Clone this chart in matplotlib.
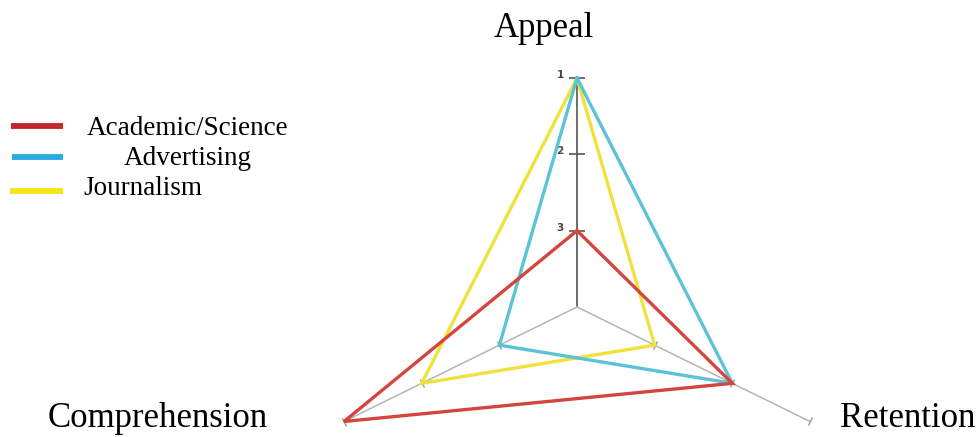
import numpy as np
import matplotlib
matplotlib.use("Agg")
import matplotlib.pyplot as plt
from matplotlib.lines import Line2D
from matplotlib.markers import MarkerStyle
from matplotlib.transforms import Affine2D

# ---- data ----
axes_labels = ["Appeal", "Retention", "Comprehension"]
axes_angles_deg = [90, -30, 210]
series_names = ["Academic/Science", "Advertising", "Journalism"]
academic_ranks = [3, 2, 1]
advertising_ranks = [1, 2, 3]
journalism_ranks = [1, 3, 2]
rank_ticks = [1, 2, 3]
max_rank = 3

line_colors = {"Academic/Science": "#d5453f", "Advertising": "#5cc3d6", "Journalism": "#efe23c"}
legend_colors = {"Academic/Science": "#c1272d", "Advertising": "#29abe2", "Journalism": "#f5e616"}

W, H = 978, 437
fig = plt.figure(figsize=(W / 100, H / 100), dpi=100)

def fx(px):
    return px / W

def fy(py):
    return 1 - py / H

def rad(rank):
    return (max_rank + 1) - rank

# polar axes stretched horizontally
cx, cy = 577, 307
ry = 229
rx = 269
ax = fig.add_axes([fx(cx - rx), (H - cy - ry) / H, 2 * rx / W, 2 * ry / H], projection="polar")
ax.set_aspect("auto")
ax.set_ylim(0, rad(1))
ax.axis("off")

thetas = np.deg2rad(axes_angles_deg)

# spokes
for i, th in enumerate(thetas):
    col = "#6e6e6e" if i == 0 else "#b5b5b5"
    ax.plot([th, th], [0, rad(1)], color=col, lw=1.4 if i == 0 else 1.1, clip_on=False, zorder=1)

# ticks on the top axis
for rk in rank_ticks:
    ax.plot([thetas[0]], [rad(rk)], marker="_", markersize=11, mew=1.2, color="#555555", clip_on=False, zorder=2)
    ax.annotate(str(rk), xy=(thetas[0], rad(rk)), xytext=(-17, 3), textcoords="offset pixels",
                ha="center", va="center", fontsize=7.5, color="#444444", fontweight="bold",
                family="DejaVu Sans")

# small ticks on lower axes
for th, ang in zip(thetas[1:], [-25.7, 25.7]):
    m = MarkerStyle("|", transform=Affine2D().rotate_deg(ang))
    for rk in rank_ticks:
        ax.plot([th], [rad(rk)], marker=m, markersize=6, mew=1.0, color="#9a9a9a", clip_on=False, zorder=2)

# series polygons
series = [("Journalism", journalism_ranks), ("Advertising", advertising_ranks), ("Academic/Science", academic_ranks)]
for name, ranks in series:
    r = [rad(v) for v in ranks]
    th = list(thetas) + [thetas[0]]
    rr = r + [r[0]]
    ax.plot(th, rr, color=line_colors[name], lw=2.4, clip_on=False, zorder=3, solid_joinstyle="miter")

# axis titles
serif = "Liberation Serif"
fig.text(fx(544), fy(37), "Appeal", ha="center", va="baseline", fontsize=25, family=serif)
fig.text(fx(48), fy(427), "Comprehension", ha="left", va="baseline", fontsize=25, family=serif)
fig.text(fx(840), fy(427), "Retention", ha="left", va="baseline", fontsize=25, family=serif)

# legend (manual)
leg_y = [125.5, 157, 190.5]
leg_x0 = [11, 12, 10]
leg_tx = [87, 124, 83]
leg_base = [135, 165, 195]
for name, y, x0, tx, tb in zip(series_names, leg_y, leg_x0, leg_tx, leg_base):
    fig.add_artist(Line2D([fx(x0), fx(63)], [fy(y), fy(y)], color=legend_colors[name], lw=4.2,
                          solid_capstyle="butt", transform=fig.transFigure))
    fig.text(fx(tx), fy(tb), name, ha="left", va="baseline", fontsize=19.5, family=serif)

fig.savefig("out.png", dpi=100, facecolor="white")
